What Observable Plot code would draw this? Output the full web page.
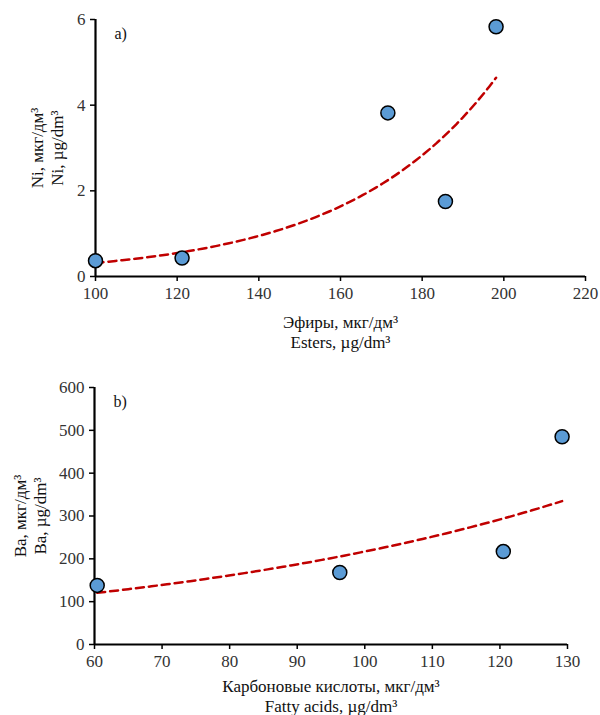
<!DOCTYPE html>
<html><head><meta charset="utf-8">
<script src="https://cdn.jsdelivr.net/npm/d3@7"></script>
<script src="https://cdn.jsdelivr.net/npm/@observablehq/plot@0.6"></script>
<style>
body{margin:0;background:#fff;}
#wrap{width:600px;height:715px;position:relative;overflow:hidden;}
</style></head>
<body><div id="wrap"></div>
<script>
// Panel a: Esters vs Ni
const estersX = [100.0, 121.2, 171.6, 185.7, 198.1];
const niY = [0.37, 0.43, 3.82, 1.75, 5.83];
const aXTicks = [100, 120, 140, 160, 180, 200, 220];
const aYTicks = [0, 2, 4, 6];
// Panel b: Fatty acids vs Ba
const fattyX = [60.4, 96.3, 120.5, 129.2];
const baY = [138, 168, 217, 485];
const bXTicks = [60, 70, 80, 90, 100, 110, 120, 130];
const bYTicks = [0, 100, 200, 300, 400, 500, 600];

// exponential trendline (least squares on ln y), like a spreadsheet trendline
function expFit(xs, ys) {
  const ly = ys.map(Math.log);
  const mx = d3.mean(xs), my = d3.mean(ly);
  let sxy = 0, sxx = 0;
  xs.forEach((x, i) => { sxy += (x - mx) * (ly[i] - my); sxx += (x - mx) ** 2; });
  const b = sxy / sxx, a = Math.exp(my - b * mx);
  const [lo, hi] = d3.extent(xs);
  return d3.range(0, 61).map(i => { const x = lo + (hi - lo) * i / 60; return {x, y: a * Math.exp(b * x)}; });
}

const FONT = "'Liberation Serif','Times New Roman',serif";

function panel({xs, ys, xTicks, yTicks, xDomain, yDomain, height, mTop, mBottom, mLeft, mRight, tag, xLabel, yLabel, xLabelDy, yLabelDx}) {
  const pts = xs.map((x, i) => ({x, y: ys[i]}));
  return Plot.plot({
    width: 600, height,
    marginTop: mTop, marginBottom: mBottom, marginLeft: mLeft, marginRight: mRight,
    style: {fontFamily: FONT, fontSize: "17px", background: "#fff", color: "#222"},
    x: {domain: xDomain}, y: {domain: yDomain},
    marks: [
      Plot.axisX({ticks: xTicks, tickSize: 5, tickPadding: 5, stroke: "black", strokeWidth: 1.5, fill: "#333", fontSize: 17, label: null, tickFormat: d => d}),
      Plot.axisY({ticks: yTicks, tickSize: 5, tickPadding: 5, stroke: "black", strokeWidth: 1.5, fill: "#333", fontSize: 17, label: null, tickFormat: d => d}),
      Plot.ruleY([yDomain[0]], {stroke: "black", strokeWidth: 2.2}),
      Plot.ruleX([xDomain[0]], {stroke: "black", strokeWidth: 2.2}),
      Plot.line(expFit(xs, ys), {x: "x", y: "y", stroke: "#c00000", strokeWidth: 2.5, strokeDasharray: "8,5", curve: "linear"}),
      Plot.dot(pts, {x: "x", y: "y", r: 7, fill: "#5b9bd5", stroke: "black", strokeWidth: 1.5}),
      Plot.text([tag], {frameAnchor: "top-left", dx: 19, dy: 8, fontSize: 16, fill: "#111", textAnchor: "start"}),
      Plot.text([xLabel], {frameAnchor: "bottom", dy: xLabelDy, fontSize: 17, fill: "#111", lineAnchor: "middle", lineHeight: 1.2}),
      Plot.text([yLabel], {frameAnchor: "left", dx: yLabelDx, rotate: -90, fontSize: 17, fill: "#111", textAnchor: "middle", lineAnchor: "middle", lineHeight: 1.2})
    ]
  });
}

const a = panel({
  xs: estersX, ys: niY, xTicks: aXTicks, yTicks: aYTicks, xDomain: [100, 220], yDomain: [0, 6],
  height: 360, mTop: 19, mBottom: 84, mLeft: 95, mRight: 15, tag: "a)",
  xLabel: "Эфиры, мкг/дм³\nEsters, µg/dm³", yLabel: "Ni, мкг/дм³\nNi, µg/dm³", xLabelDy: 55, yLabelDx: -49
});
const b = panel({
  xs: fattyX, ys: baY, xTicks: bXTicks, yTicks: bYTicks, xDomain: [60, 130], yDomain: [0, 600],
  height: 355, mTop: 27, mBottom: 71, mLeft: 94, mRight: 33, tag: "b)",
  xLabel: "Карбоновые кислоты, мкг/дм³\nFatty acids, µg/dm³", yLabel: "Ba, мкг/дм³\nBa, µg/dm³", xLabelDy: 51, yLabelDx: -65
});
const wrap = document.getElementById("wrap");
a.style.display = "block"; b.style.display = "block";
wrap.append(a, b);
</script></body></html>
